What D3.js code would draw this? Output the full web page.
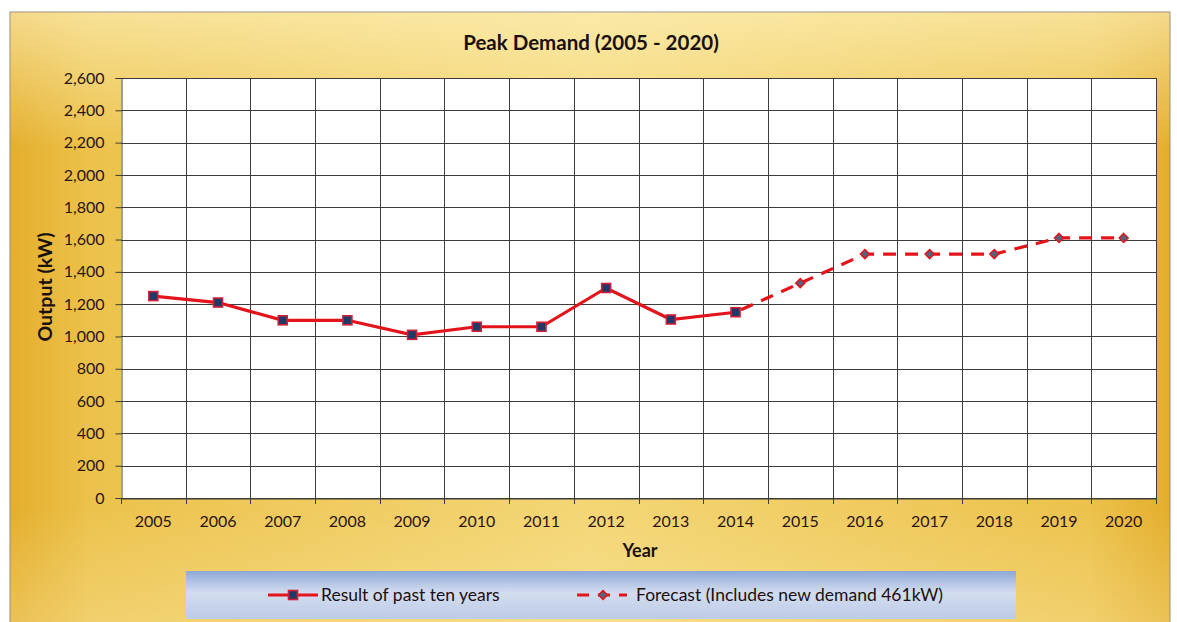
<!DOCTYPE html>
<html><head><meta charset="utf-8">
<script src="https://cdn.jsdelivr.net/npm/d3@7/dist/d3.min.js"></script>
<style>html,body{margin:0;padding:0;background:#fff;overflow:hidden}svg{display:block}</style>
</head><body>
<script>
const years = ["2005","2006","2007","2008","2009","2010","2011","2012","2013","2014","2015","2016","2017","2018","2019","2020"];
const pastYears = ["2005","2006","2007","2008","2009","2010","2011","2012","2013","2014"];
const pastValues = [1250,1210,1100,1100,1010,1060,1060,1300,1105,1150];
const forecastYears = ["2014","2015","2016","2017","2018","2019","2020"];
const forecastValues = [1150,1330,1510,1510,1510,1610,1610];
const yTicks = [0,200,400,600,800,1000,1200,1400,1600,1800,2000,2200,2400,2600];
const titleText = "Peak Demand (2005 - 2020)";
const xTitle = "Year", yTitle = "Output (kW)";
const legendLabels = ["Result of past ten years","Forecast (Includes new demand 461kW)"];

const W=1177,H=622;
const svg=d3.select("body").append("svg").attr("width",W).attr("height",H);
const defs=svg.append("defs");
const gh=defs.append("linearGradient").attr("id","gh").attr("x1",0).attr("x2",1).attr("y1",0).attr("y2",0);
[[0,"#e4ae2c"],[0.07,"#ecc24c"],[0.5,"#f4d676"],[0.93,"#ecc24c"],[1,"#e4ae2c"]].forEach(s=>gh.append("stop").attr("offset",s[0]).attr("stop-color",s[1]));
const gv=defs.append("linearGradient").attr("id","gv").attr("x1",0).attr("x2",0).attr("y1",0).attr("y2",1);
[[0,"#fff6c8",0.6],[0.22,"#fff6c8",0.0],[0.8,"#fff6c8",0.0],[1,"#fff3c0",0.3]].forEach(s=>gv.append("stop").attr("offset",s[0]).attr("stop-color",s[1]).attr("stop-opacity",s[2]));
const gl=defs.append("linearGradient").attr("id","gl").attr("x1",0).attr("x2",0).attr("y1",0).attr("y2",1);
[[0,"#8ea8d8"],[0.45,"#d3ddef"],[1,"#bccbe6"]].forEach(s=>gl.append("stop").attr("offset",s[0]).attr("stop-color",s[1]));

svg.append("rect").attr("x",10).attr("y",12).attr("width",1160).attr("height",620).attr("fill","url(#gh)").attr("stroke","#8c8c8c").attr("stroke-width",1);
svg.append("rect").attr("x",10.5).attr("y",12.5).attr("width",1159).attr("height",620).attr("fill","url(#gv)");

const m={l:121,r:1156,t:78,b:498};
const x=d3.scaleBand().domain(years).range([m.l,m.r]);
const y=d3.scaleLinear().domain([0,2600]).range([m.b,m.t]);

svg.append("rect").attr("x",m.l).attr("y",m.t).attr("width",m.r-m.l).attr("height",m.b-m.t).attr("fill","#fff");

const font="Lato, 'Open Sans', sans-serif";
const txt="#2a1414";
const grid=svg.append("g").attr("stroke","#3c3c3c").attr("stroke-width",1);
yTicks.forEach(v=>grid.append("line").attr("x1",m.l).attr("x2",m.r).attr("y1",Math.round(y(v))+0.5).attr("y2",Math.round(y(v))+0.5));
years.forEach((yr,i)=>{ if(i>0) grid.append("line").attr("x1",Math.round(x(yr))+0.5).attr("x2",Math.round(x(yr))+0.5).attr("y1",m.t).attr("y2",m.b);});
grid.append("line").attr("x1",m.r+0.5).attr("x2",m.r+0.5).attr("y1",m.t).attr("y2",m.b);

const ya=svg.append("g").attr("transform",`translate(${m.l+0.5},0)`).call(d3.axisLeft(y).tickValues(yTicks).tickSize(6).tickPadding(11).tickFormat(d3.format(",")));
ya.select(".domain").attr("stroke","#3c3c3c");
ya.selectAll(".tick line").attr("stroke","#3c3c3c");
ya.selectAll("text").attr("font-family",font).attr("font-size",16).attr("fill",txt);

const xa=svg.append("g").attr("transform",`translate(0,${m.b+0.5})`).call(d3.axisBottom(x).tickSize(0).tickPadding(17));
xa.select(".domain").attr("stroke","#3c3c3c");
xa.selectAll("text").attr("font-family",font).attr("font-size",16).attr("fill",txt);
years.concat(["end"]).forEach((yr,i)=>{const px=i<years.length?x(yr):m.r; svg.append("line").attr("x1",Math.round(px)+0.5).attr("x2",Math.round(px)+0.5).attr("y1",m.b).attr("y2",m.b+6).attr("stroke","#3c3c3c");});

svg.append("text").attr("x",591).attr("y",50).attr("text-anchor","middle").attr("font-family",font).attr("font-weight","bold").attr("font-size",20.5).attr("fill","#1a1010").text(titleText);
svg.append("text").attr("x",640).attr("y",557).attr("text-anchor","middle").attr("font-family",font).attr("font-weight","bold").attr("font-size",18).attr("fill","#1a1010").text(xTitle);
svg.append("text").attr("transform","translate(52,287) rotate(-90)").attr("text-anchor","middle").attr("font-family",font).attr("font-weight","bold").attr("font-size",19.5).attr("fill","#1a1010").text(yTitle);

const cx=d=>x(d)+x.bandwidth()/2;
const red="#e3141b";
const fData=forecastYears.map((d,i)=>({k:d,v:forecastValues[i]}));
const pData=pastYears.map((d,i)=>({k:d,v:pastValues[i]}));
const line=d3.line().x(d=>cx(d.k)).y(d=>y(d.v));
svg.append("path").datum(fData).attr("d",line).attr("fill","none").attr("stroke",red).attr("stroke-width",3.2).attr("stroke-dasharray","13,9").attr("stroke-dashoffset",-6);
svg.append("path").datum(pData).attr("d",line).attr("fill","none").attr("stroke",red).attr("stroke-width",3.2);

function diamond(g,px,py){g.append("path").attr("d",`M${px},${py-4.5}L${px+4.5},${py}L${px},${py+4.5}L${px-4.5},${py}Z`).attr("fill","#55627e").attr("stroke",red).attr("stroke-width",1.5);}
function square(g,px,py){g.append("rect").attr("x",px-4.5).attr("y",py-4.5).attr("width",9).attr("height",9).attr("fill","#1f3a66").attr("stroke","#d0203a").attr("stroke-width",1.6);}
const mk=svg.append("g");
fData.slice(1).forEach(d=>diamond(mk,cx(d.k),y(d.v)));
pData.forEach(d=>square(mk,cx(d.k),y(d.v)));

svg.append("rect").attr("x",186).attr("y",571).attr("width",830).attr("height",48).attr("fill","url(#gl)");
const lg=svg.append("g");
lg.append("line").attr("x1",268).attr("x2",318).attr("y1",595).attr("y2",595).attr("stroke",red).attr("stroke-width",3.2);
square(lg,293,595);
lg.append("text").attr("x",321).attr("y",601).attr("font-family",font).attr("font-size",17.5).attr("fill","#1a1010").text(legendLabels[0]);
lg.append("line").attr("x1",577).attr("x2",627).attr("y1",595).attr("y2",595).attr("stroke",red).attr("stroke-width",3.2).attr("stroke-dasharray","12,9");
diamond(lg,603,595);
lg.append("text").attr("x",636).attr("y",601).attr("font-family",font).attr("font-size",17.5).attr("fill","#1a1010").text(legendLabels[1]);
</script>
</body></html>
